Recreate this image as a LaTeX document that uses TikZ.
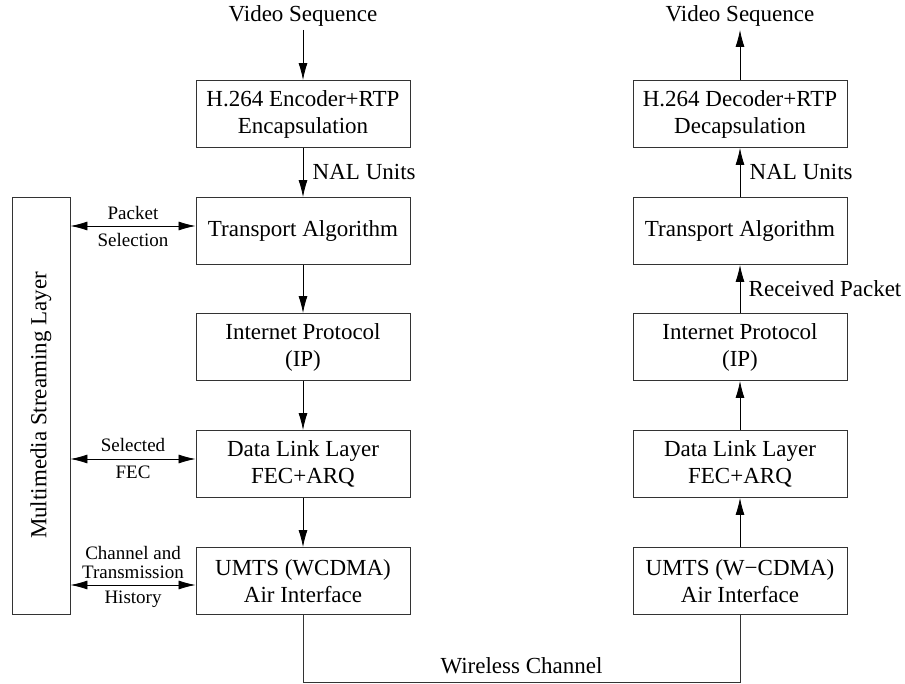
\documentclass[tikz,border=0pt]{standalone}
\usepackage{fontspec}
\setmainfont{Liberation Serif}
\usetikzlibrary{arrows.meta,positioning}

\tikzset{
  blk/.style={draw=black!80,line width=0.9pt,minimum width=214pt,minimum height=67pt,align=center,inner sep=0pt},
  flow/.style={line width=0.8pt,-{Latex[length=17pt,width=9pt]}},
  both/.style={line width=0.8pt,{Latex[length=17pt,width=9pt]}-{Latex[length=17pt,width=9pt]}},
  lbl/.style={font=\fontsize{19pt}{19pt}\selectfont,align=center}
}

\begin{document}
\begin{tikzpicture}[x=1pt,y=-1pt,font=\fontsize{23pt}{27pt}\selectfont]
\useasboundingbox (0,0) rectangle (905,684);

% sender side
\node (vin) at (303,16) {Video Sequence};
\node[blk] (enc) at (303,114) {H.264 Encoder+RTP\\Encapsulation};
\node[blk] (tr) at (303,231) {Transport Algorithm};
\node[blk] (ip) at (303,347) {Internet Protocol\\(IP)};
\node[blk] (dl) at (303,464) {Data Link Layer\\FEC+ARQ};
\node[blk] (um) at (303,581) {UMTS (WCDMA)\\Air Interface};

% receiver side
\node (vout) at (740,16) {Video Sequence};
\node[blk] (dec) at (740,114) {H.264 Decoder+RTP\\Decapsulation};
\node[blk] (rtr) at (740,231) {Transport Algorithm};
\node[blk] (rip) at (740,347) {Internet Protocol\\(IP)};
\node[blk] (rdl) at (740,464) {Data Link Layer\\FEC+ARQ};
\node[blk] (rum) at (740,581) {UMTS (W−CDMA)\\Air Interface};

% streaming layer
\node[draw=black!80,line width=0.9pt,minimum width=58pt,minimum height=417pt,inner sep=0pt] (ms) at (41,405.5) {\rotatebox{90}{Multimedia Streaming Layer}};

\draw[flow] (vin) -- (enc);
\draw[flow] (enc) -- (tr) node[midway,right=6pt]{NAL Units};
\draw[flow] (tr) -- (ip);
\draw[flow] (ip) -- (dl);
\draw[flow] (dl) -- (um);

\draw[flow] (rum) -- (rdl);
\draw[flow] (rdl) -- (rip);
\draw[flow] (rip) -- (rtr) node[midway,right=5pt]{Received Packet};
\draw[flow] (rtr) -- (dec) node[midway,right=6pt]{NAL Units};
\draw[flow] (dec) -- (vout);

\coordinate (ps) at ([yshift=5pt]tr.west);
\coordinate (fs) at ([yshift=5pt]dl.west);
\coordinate (ch) at ([yshift=-4pt]um.west);
\draw[both] (ms.east |- ps) -- (ps) node[midway,above=3pt,lbl]{Packet} node[midway,below=4pt,lbl]{Selection};
\draw[both] (ms.east |- fs) -- (fs) node[midway,above=4pt,lbl]{Selected} node[midway,below=3pt,lbl]{FEC};
\draw[both] (ms.east |- ch) -- (ch) node[midway,above=3pt,lbl]{Channel and\\Transmission} node[midway,below=2pt,lbl]{History};

% wireless link
\draw[line width=0.9pt,draw=black!80] (um.south) -- ++(0,67) coordinate (wl) -- (wl -| rum.south) node[midway,above=4pt]{Wireless Channel} -- (rum.south);
\end{tikzpicture}
\end{document}
